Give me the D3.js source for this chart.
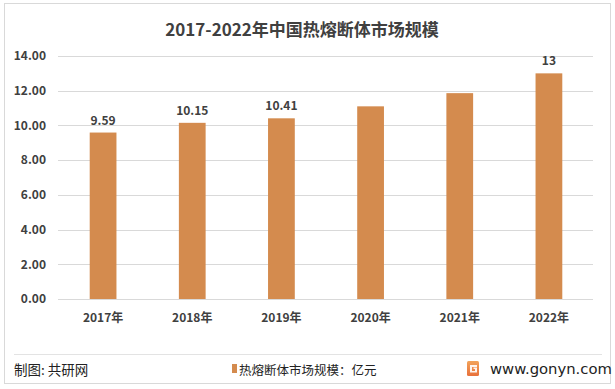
<!DOCTYPE html>
<html><head><meta charset="utf-8">
<script src="https://cdn.jsdelivr.net/npm/d3@7"></script>
<style>body{margin:0;background:#fff}svg{display:block}</style>
</head><body><svg id="c" width="615" height="389"></svg>
<script>
const categories = ["2017年","2018年","2019年","2020年","2021年","2022年"];
const values = [9.59, 10.15, 10.41, 11.1, 11.86, 13];
const valueLabels = ["9.59","10.15","10.41","","","13"];
const yTicks = [0,2,4,6,8,10,12,14];
const title = "2017-2022年中国热熔断体市场规模";
const legendText = "热熔断体市场规模：亿元";

const svg = d3.select("#c");
const font = "'Noto Sans CJK SC','Microsoft YaHei',sans-serif";
const txt = "#404040";
const barColor = "#d48b4e";

svg.append("rect").attr("x",4.5).attr("y",3.5).attr("width",606).attr("height",380)
  .attr("fill","#fff").attr("stroke","#d9d9d9");

svg.append("text").attr("x",302).attr("y",36).attr("text-anchor","middle")
  .attr("font-family",font).attr("font-weight","bold").attr("font-size",17).attr("fill",txt).text(title);

const x = d3.scaleBand().domain(categories).range([58.5,593.5]).paddingInner(0.7).paddingOuter(0.35);
const y = d3.scaleLinear().domain([0,14]).range([299,56]);

const g = svg.append("g");
g.selectAll("line.grid").data(yTicks).enter().append("line")
  .attr("x1",58).attr("x2",593).attr("y1",d=>Math.round(y(d))+0.5).attr("y2",d=>Math.round(y(d))+0.5)
  .attr("stroke","#d9d9d9").attr("stroke-width",1);

const yAxis = svg.append("g").attr("transform","translate(58,0)")
  .call(d3.axisLeft(y).tickValues(yTicks).tickFormat(d3.format(".2f")).tickSize(0).tickPadding(12));
yAxis.select(".domain").remove();
yAxis.selectAll("text").attr("font-family",font).attr("font-size",12).attr("font-weight","bold").attr("fill",txt);

const xAxis = svg.append("g").attr("transform","translate(0,299)")
  .call(d3.axisBottom(x).tickSize(0).tickPadding(14));
xAxis.select(".domain").remove();
xAxis.selectAll("text").attr("font-family",font).attr("font-size",12).attr("font-weight","bold").attr("fill",txt);

const data = categories.map((c,i)=>({c,v:values[i],l:valueLabels[i]}));
g.selectAll("rect.bar").data(data).enter().append("rect")
  .attr("x",d=>x(d.c)).attr("width",x.bandwidth())
  .attr("y",d=>y(d.v)).attr("height",d=>y(0)-y(d.v)).attr("fill",barColor);
g.selectAll("text.vl").data(data).enter().append("text")
  .attr("x",d=>x(d.c)+x.bandwidth()/2).attr("y",d=>y(d.v)-8).attr("text-anchor","middle")
  .attr("font-family",font).attr("font-size",12).attr("font-weight","bold").attr("fill",txt).text(d=>d.l);

// footer
svg.append("line").attr("x1",14).attr("x2",602).attr("y1",354.5).attr("y2",354.5).attr("stroke","#e3e3e3");
svg.append("text").attr("x",14).attr("y",375).attr("font-family",font).attr("font-size",13.5).attr("fill","#222").text("制图: 共研网");
svg.append("rect").attr("x",232).attr("y",364).attr("width",5).attr("height",9).attr("fill",barColor);
svg.append("text").attr("x",239).attr("y",375).attr("font-family",font).attr("font-size",12.5).attr("fill","#222").text(legendText);
const defs = svg.append("defs");
const lg = defs.append("linearGradient").attr("id","lg").attr("x1",0).attr("y1",0).attr("x2",0).attr("y2",1);
lg.append("stop").attr("offset","0%").attr("stop-color","#f2a35a");
lg.append("stop").attr("offset","100%").attr("stop-color","#e8703a");
svg.append("rect").attr("x",467).attr("y",361).attr("width",12).attr("height",15).attr("rx",1.5).attr("fill","url(#lg)");
svg.append("path").attr("d","M470,365 h7 v2 h-5 v4 h3 v-2 h-1.5 v-1.5 h3.5 v5 h-7 z").attr("fill","#fff").attr("opacity",0.9);
svg.append("text").attr("x",490).attr("y",374).attr("font-family","'DejaVu Sans',sans-serif").attr("font-size",14.8).attr("fill","#222").text("www.gonyn.com");
</script></body></html>
